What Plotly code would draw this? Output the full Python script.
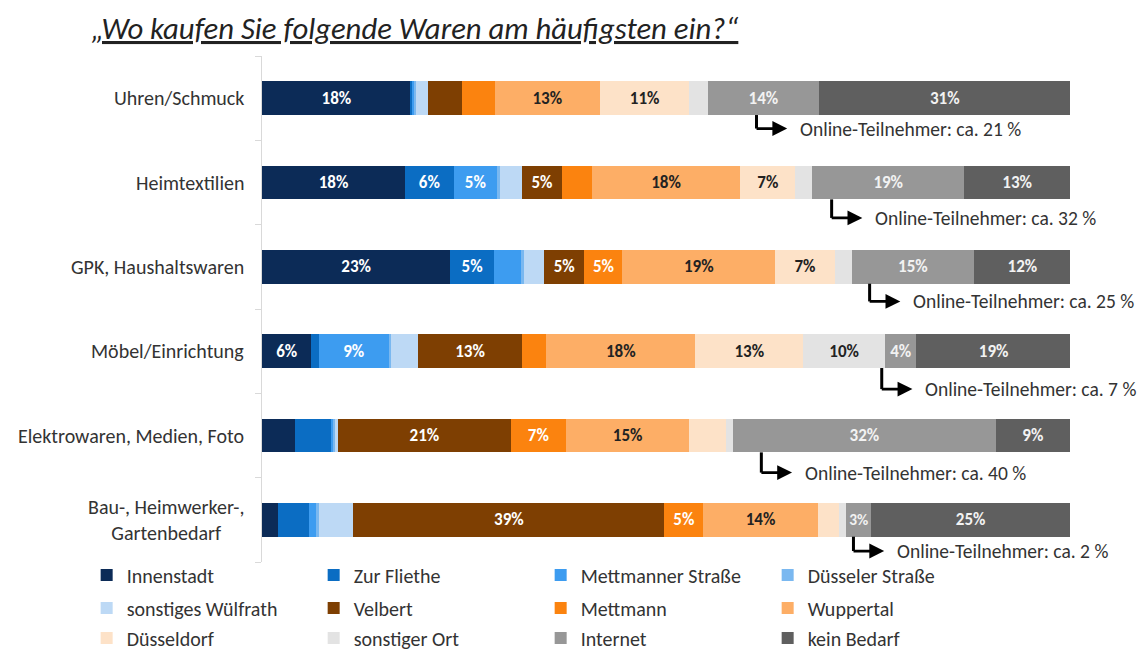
import plotly.graph_objects as go

# ---------------- data ----------------
categories = ["Uhren/Schmuck", "Heimtextilien", "GPK, Haushaltswaren",
              "Möbel/Einrichtung", "Elektrowaren, Medien, Foto",
              "Bau-, Heimwerker-,<br>Gartenbedarf"]

series_names = ["Innenstadt", "Zur Fliethe", "Mettmanner Straße", "Düsseler Straße",
                "sonstiges Wülfrath", "Velbert", "Mettmann", "Wuppertal",
                "Düsseldorf", "sonstiger Ort", "Internet", "kein Bedarf"]

innenstadt      = [18.4, 17.7, 23.3, 6.1, 4.1, 2.0]
zur_fliethe     = [0.2, 6.0, 5.4, 0.9, 4.4, 3.8]
mettmanner_str  = [0.3, 5.4, 3.4, 8.7, 0.3, 0.9]
duesseler_str   = [0.2, 0.3, 0.3, 0.3, 0.2, 0.3]
sonst_wuelfrath = [1.5, 2.8, 2.5, 3.3, 0.4, 4.3]
velbert         = [4.2, 4.9, 5.0, 12.9, 21.4, 38.5]
mettmann        = [4.0, 3.7, 4.7, 3.0, 6.8, 4.8]
wuppertal       = [13.0, 18.4, 18.9, 18.4, 15.3, 14.2]
duesseldorf     = [11.1, 6.8, 7.4, 13.4, 4.5, 2.6]
sonstiger_ort   = [2.3, 2.1, 2.1, 10.1, 0.9, 0.9]
internet        = [13.7, 18.8, 15.1, 3.9, 32.5, 3.1]
kein_bedarf     = [31.2, 13.1, 12.0, 19.1, 9.2, 24.6]

lbl_innenstadt      = ["18%", "18%", "23%", "6%", "", ""]
lbl_zur_fliethe     = ["", "6%", "5%", "", "", ""]
lbl_mettmanner_str  = ["", "5%", "", "9%", "", ""]
lbl_duesseler_str   = ["", "", "", "", "", ""]
lbl_sonst_wuelfrath = ["", "", "", "", "", ""]
lbl_velbert         = ["", "5%", "5%", "13%", "21%", "39%"]
lbl_mettmann        = ["", "", "5%", "", "7%", "5%"]
lbl_wuppertal       = ["13%", "18%", "19%", "18%", "15%", "14%"]
lbl_duesseldorf     = ["11%", "7%", "7%", "13%", "", ""]
lbl_sonstiger_ort   = ["", "", "", "10%", "", ""]
lbl_internet        = ["14%", "19%", "15%", "4%", "32%", "3%"]
lbl_kein_bedarf     = ["31%", "13%", "12%", "19%", "9%", "25%"]

online_teilnehmer = [21, 32, 25, 7, 40, 2]

# ---------------- styles / layout helpers ----------------
values = [innenstadt, zur_fliethe, mettmanner_str, duesseler_str, sonst_wuelfrath,
          velbert, mettmann, wuppertal, duesseldorf, sonstiger_ort, internet, kein_bedarf]
labels = [lbl_innenstadt, lbl_zur_fliethe, lbl_mettmanner_str, lbl_duesseler_str,
          lbl_sonst_wuelfrath, lbl_velbert, lbl_mettmann, lbl_wuppertal,
          lbl_duesseldorf, lbl_sonstiger_ort, lbl_internet, lbl_kein_bedarf]
colors = ["#0c2b57", "#0b6dc3", "#3d9cf0", "#7ab8f0", "#bdd9f5", "#7e3f02",
          "#fb830f", "#fdae66", "#fde2c8", "#e3e3e3", "#979797", "#5f5f5f"]
text_colors = ["white", "white", "white", "#222", "#222", "white",
               "white", "#222", "#222", "#222", "#f2f2f2", "#f2f2f2"]
legend_ids = ["legend", "legend", "legend", "legend",
              "legend2", "legend2", "legend2", "legend2",
              "legend3", "legend3", "legend3", "legend3"]

FONT = "Carlito, Lato, 'Open Sans', sans-serif"

# arrow geometry (percent x, row offset y)
arrow_corner_x = [61.2, 70.5, 75.2, 76.7, 61.8, 73.2]
arrow_dy = [0.36, 0.42, 0.41, 0.45, 0.44, 0.37]
ARROW_LEN = 3.8

ypos = list(range(len(categories)))

fig = go.Figure()
for name, vals, lbls, col, tcol, lg in zip(series_names, values, labels, colors,
                                           text_colors, legend_ids):
    fig.add_trace(go.Bar(
        name=name, y=ypos, x=vals, orientation="h", width=0.4,
        marker=dict(color=col, line=dict(width=0)),
        text=lbls, textposition="inside", insidetextanchor="middle",
        textangle=0, textfont=dict(color=tcol, size=17, family=FONT, weight="bold"),
        hoverinfo="skip", legend=lg,
    ))

annotations = []
shapes = []
# category labels
for i, cat in enumerate(categories):
    annotations.append(dict(
        x=0, xref="paper", y=i, yref="y", xanchor="right", yanchor="middle",
        xshift=-16, text=cat, showarrow=False, align="center",
        font=dict(size=20, color="#333", family=FONT)))

# online annotations
for i, (cx, dy, pct) in enumerate(zip(arrow_corner_x, arrow_dy, online_teilnehmer)):
    yy = i + dy
    shapes.append(dict(type="line", xref="x", yref="y", x0=cx, x1=cx,
                       y0=i + 0.2, y1=yy, line=dict(color="black", width=3)))
    annotations.append(dict(
        x=cx + ARROW_LEN, y=yy, xref="x", yref="y", ax=cx - 0.18, ay=yy,
        axref="x", ayref="y", text="", showarrow=True, arrowhead=2,
        arrowsize=1.1, arrowwidth=2.7, arrowcolor="black", standoff=0, startstandoff=0))
    annotations.append(dict(
        x=cx + ARROW_LEN, y=yy, xref="x", yref="y", xanchor="left", yanchor="middle",
        xshift=11, text=f"Online-Teilnehmer: ca. {pct} %", showarrow=False,
        font=dict(size=19.5, color="#333", family=FONT)))

# title
annotations.append(dict(
    x=-0.214, y=1.0553, xref="paper", yref="paper", xanchor="left", yanchor="middle",
    text="<i><u>„Wo kaufen Sie folgende Waren am häufigsten ein?“</u></i>",
    showarrow=False, font=dict(size=30.7, color="#222", family=FONT)))

legend_common = dict(orientation="h", xanchor="left", yanchor="middle",
                     entrywidth=182, entrywidthmode="pixels",
                     font=dict(size=20, color="#333", family=FONT),
                     bgcolor="rgba(0,0,0,0)", traceorder="normal",
                     itemclick=False, itemdoubleclick=False)

fig.update_layout(
    width=1138, height=643,
    margin=dict(l=254, r=76, t=48, b=89, autoexpand=False),
    paper_bgcolor="white", plot_bgcolor="white",
    barmode="stack", bargap=0.6,
    showlegend=True,
    legend=dict(x=-0.217, y=-0.0257, **legend_common),
    legend2=dict(x=-0.217, y=-0.0909, **legend_common),
    legend3=dict(x=-0.217, y=-0.1500, **legend_common),
    xaxis=dict(range=[0, 100], visible=False, fixedrange=True),
    yaxis=dict(range=[5.5, -0.5], tickvals=[-0.5, 0.5, 1.5, 2.5, 3.5, 4.5, 5.5],
               showticklabels=False, ticks="outside", ticklen=6, tickcolor="#d9d9d9",
               showline=True, linecolor="#d9d9d9", linewidth=1,
               showgrid=False, zeroline=False, fixedrange=True),
    annotations=annotations, shapes=shapes,
    font=dict(family=FONT),
)

fig.write_html("out.html")
